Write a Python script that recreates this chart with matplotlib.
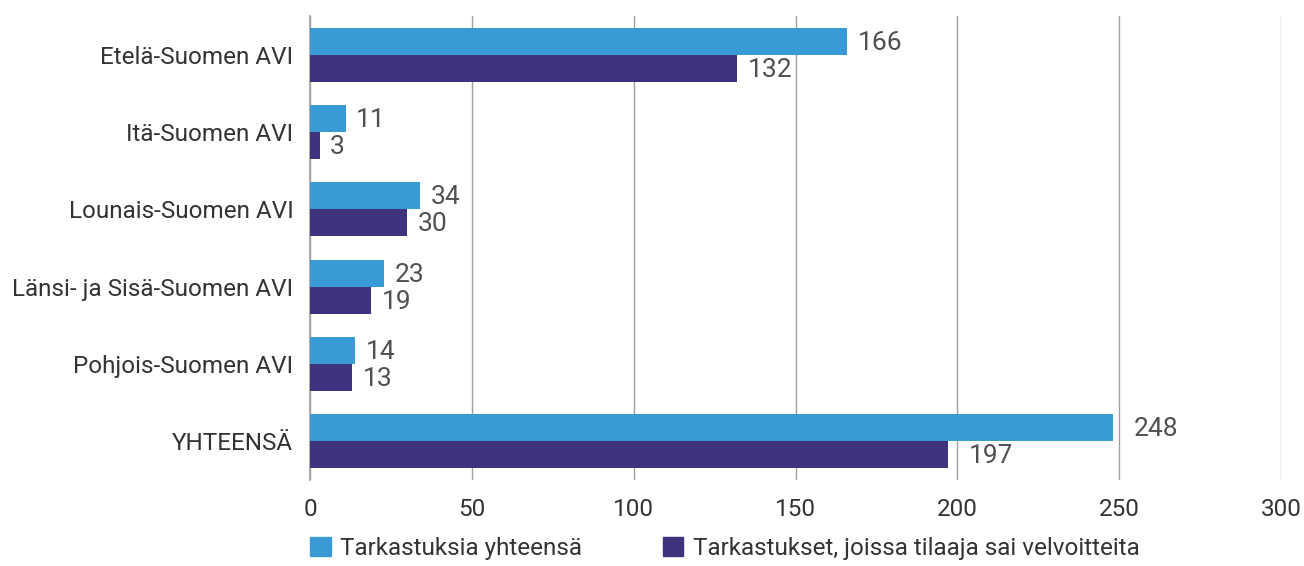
import numpy as np
import matplotlib.pyplot as plt
from matplotlib.patches import Patch

plt.rcParams["font.family"] = ["Roboto", "DejaVu Sans"]

alueet = ["Etelä-Suomen AVI", "Itä-Suomen AVI", "Lounais-Suomen AVI",
          "Länsi- ja Sisä-Suomen AVI", "Pohjois-Suomen AVI", "YHTEENSÄ"]
yhteensa = [166, 11, 34, 23, 14, 248]
velvoitteita = [132, 3, 30, 19, 13, 197]
sarjat = ["Tarkastuksia yhteensä", "Tarkastukset, joissa tilaaja sai velvoitteita"]

c_light = "#3A9AD6"
c_dark = "#40327D"

fig = plt.figure(figsize=(13.04, 5.66), dpi=100)
ax = fig.add_axes([310 / 1304, 1 - 480 / 566, (1281 - 310) / 1304, (480 - 16) / 566])

y = np.arange(len(alueet))
h = 0.35
b1 = ax.barh(y - h / 2, yhteensa, height=h, color=c_light, zorder=3)
b2 = ax.barh(y + h / 2, velvoitteita, height=h, color=c_dark, zorder=3)

for bars, vals in ((b1, yhteensa), (b2, velvoitteita)):
    for i, (bar, v) in enumerate(zip(bars, vals)):
        gap = 6.5 if i == len(vals) - 1 else 3.2
        ax.text(v + gap, bar.get_y() + bar.get_height() / 2 + 0.02, str(v),
                va="center", ha="left", fontsize=19, color="#505050")

ax.set_xlim(0, 300)
ax.set_ylim(len(alueet) - 0.495, -0.505)
ax.set_xticks(range(0, 301, 50))
ax.set_yticks(y)
ax.set_yticklabels(alueet)
ax.tick_params(axis="both", length=0, labelsize=17.5, labelcolor="#333333")
ax.tick_params(axis="x", pad=13)
ax.tick_params(axis="y", pad=12)
ax.grid(axis="x", color="#A0A0A0", linewidth=1, zorder=0)
for s in ["top", "right", "bottom"]:
    ax.spines[s].set_visible(False)
ax.spines["left"].set_color("#A0A0A0")
ax.spines["left"].set_linewidth(1.2)

handles = [Patch(color=c_light), Patch(color=c_dark)]
fig.legend(handles, sarjat, loc="upper left", bbox_to_anchor=(310 / 1304, 1 - 537 / 566),
           ncol=2, frameon=False, fontsize=17.5, handlelength=0.85, handleheight=0.85,
           columnspacing=3.3, handletextpad=0.4, labelcolor="#333333",
           borderpad=0, borderaxespad=0)

fig.savefig("out.png", dpi=100)
